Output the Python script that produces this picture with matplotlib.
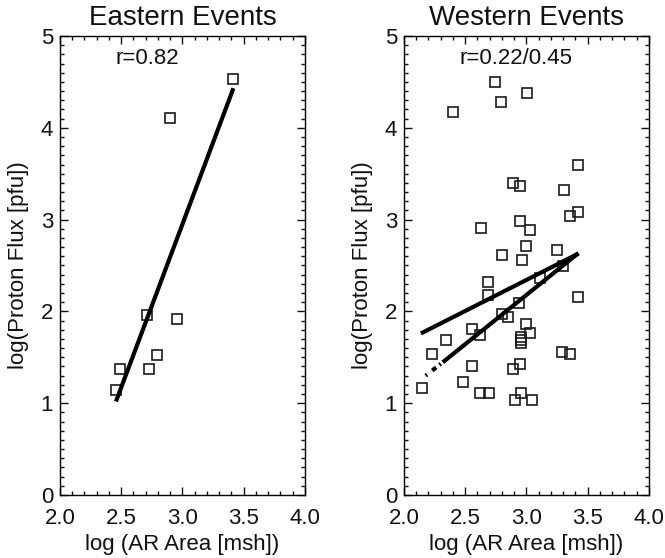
import numpy as np
import matplotlib
matplotlib.use('agg')
import matplotlib.pyplot as plt
from matplotlib.ticker import MultipleLocator, FormatStrFormatter

plt.rcParams['font.family'] = ['Liberation Sans', 'DejaVu Sans']

# eastern events: log AR area vs log proton flux
east_area = [2.455, 2.49, 2.708, 2.729, 2.789, 2.898, 2.958, 3.415]
east_flux = [1.144, 1.376, 1.96, 1.376, 1.53, 4.11, 1.92, 4.53]
east_fit_x = [2.463, 3.41]
east_fit_y = [1.04, 4.41]

# western events
west_area = [2.743, 3.007, 2.792, 2.40, 3.418,
             2.887, 2.944, 3.306, 3.42, 3.353, 2.626, 2.947, 3.029,
             3.0, 3.246, 2.80, 2.96, 3.30, 3.11, 2.683,
             2.683, 3.42, 2.941, 2.802, 2.846, 3.0, 2.558, 2.62,
             3.029, 2.952, 2.952, 2.955, 2.343, 2.231, 3.292, 3.353,
             2.555, 2.944, 2.89, 2.479, 2.147, 2.62, 2.697, 2.955,
             2.903, 3.045]
west_flux = [4.50, 4.38, 4.28, 4.17, 3.59,
             3.40, 3.37, 3.32, 3.08, 3.04, 2.91, 2.98, 2.89,
             2.71, 2.67, 2.61, 2.56, 2.49, 2.36, 2.32,
             2.175, 2.16, 2.09, 1.97, 1.94, 1.86, 1.805, 1.74,
             1.76, 1.72, 1.69, 1.66, 1.69, 1.54, 1.56, 1.54,
             1.41, 1.43, 1.376, 1.23, 1.17, 1.11, 1.11, 1.11,
             1.04, 1.04]
west_fit1_x = [2.153, 3.41]
west_fit1_y = [1.77, 2.62]
west_fit2_x = [2.33, 3.41]
west_fit2_y = [1.46, 2.62]
west_ext_x = [2.177, 2.33]
west_ext_y = [1.30, 1.46]

fig = plt.figure(figsize=(6.65, 5.58), dpi=100)
ax1 = fig.add_axes([0.0902, 0.1129, 0.3684, 0.8226])
ax2 = fig.add_axes([0.6075, 0.1129, 0.3684, 0.8226])


def style(ax, title, rtext):
    ax.set_xlim(2.0, 4.0)
    ax.set_ylim(0, 5)
    ax.xaxis.set_major_locator(MultipleLocator(0.5))
    ax.xaxis.set_minor_locator(MultipleLocator(0.1))
    ax.xaxis.set_major_formatter(FormatStrFormatter('%.1f'))
    ax.yaxis.set_major_locator(MultipleLocator(1))
    ax.yaxis.set_minor_locator(MultipleLocator(0.1))
    ax.tick_params(which='both', direction='in', top=True, right=True,
                   width=1, labelsize=16, colors='#111111')
    ax.tick_params(which='major', length=6)
    ax.tick_params(which='minor', length=3)
    ax.tick_params(axis='x', pad=9)
    ax.tick_params(axis='y', pad=5)
    for s in ax.spines.values():
        s.set_linewidth(1.0)
    ax.set_title(title, fontsize=20, pad=8, color='#111111')
    ax.set_xlabel('log (AR Area [msh])', fontsize=16, labelpad=4, color='#111111')
    ax.set_ylabel('log(Proton Flux [pfu])', fontsize=16, labelpad=8, color='#111111')
    ax.text(2.45, 4.76, rtext, fontsize=16, va='center', ha='left', color='#111111')


style(ax1, 'Eastern Events', 'r=0.82')
ax1.plot(east_area, east_flux, 's', ms=6.5, mfc='none', mec='#1a1a1a', mew=1.2)
ax1.plot(east_fit_x, east_fit_y, 'k-', lw=3)

style(ax2, 'Western Events', 'r=0.22/0.45')
ax2.plot(west_area, west_flux, 's', ms=6.5, mfc='none', mec='#1a1a1a', mew=1.2)
ax2.plot(west_fit1_x, west_fit1_y, 'k-', lw=3)
ax2.plot(west_fit2_x, west_fit2_y, 'k-', lw=3)
ax2.plot(west_ext_x, west_ext_y, 'k-', lw=3, dashes=(0.4, 1.6, 1.2, 1.0))

fig.savefig('out.png', dpi=100)
